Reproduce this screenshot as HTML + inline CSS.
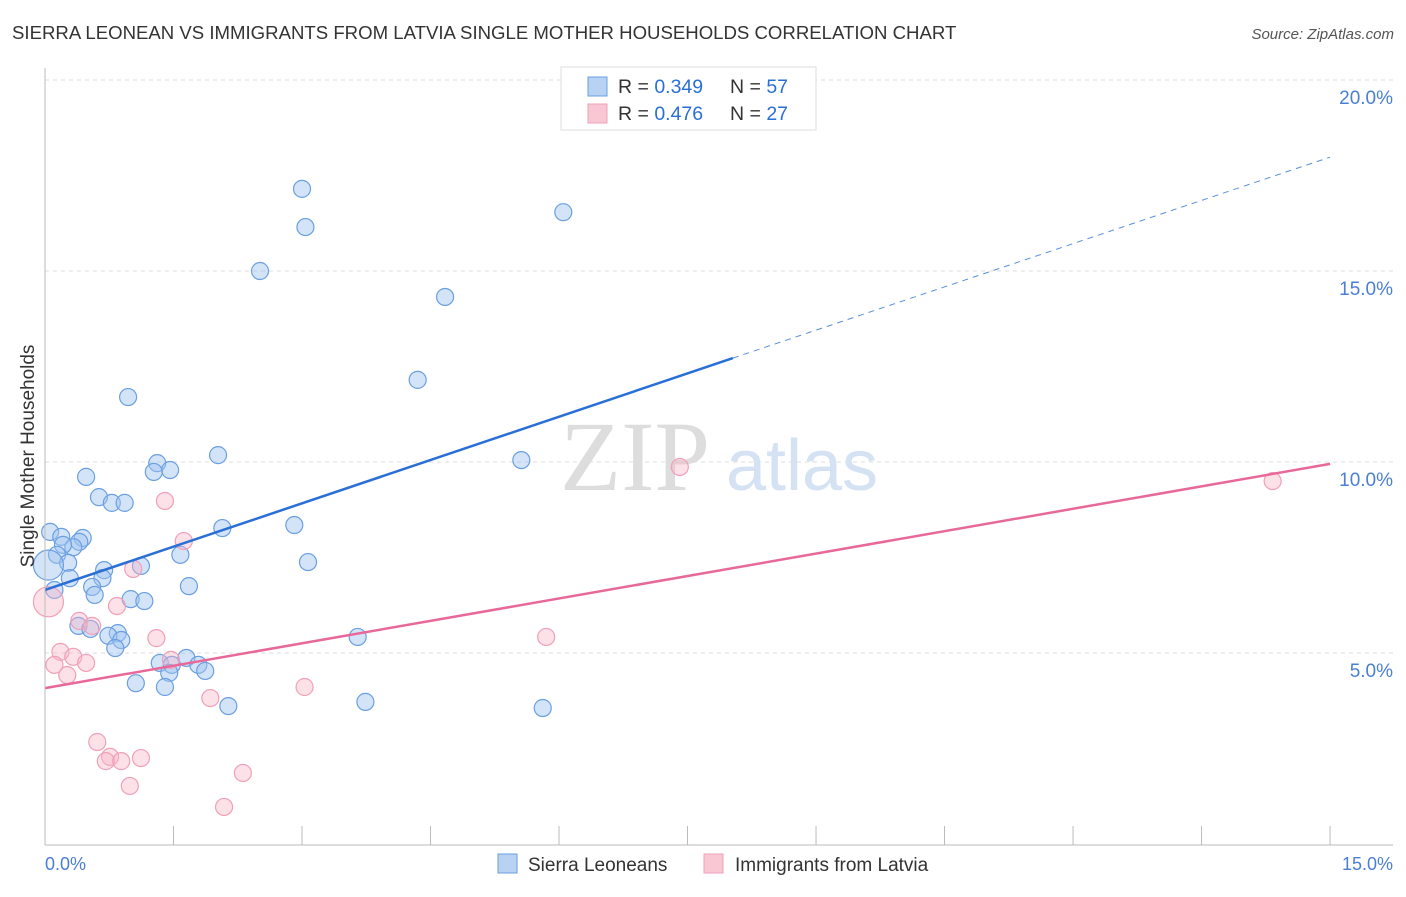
<!DOCTYPE html>
<html><head><meta charset="utf-8"><style>
body{margin:0;background:#fff;font-family:"Liberation Sans",sans-serif}
</style></head><body>
<svg width="1406" height="892" style="font-family:'Liberation Sans',sans-serif">
<text x="12" y="39" font-size="18.6" fill="#333">SIERRA LEONEAN VS IMMIGRANTS FROM LATVIA SINGLE MOTHER HOUSEHOLDS CORRELATION CHART</text>
<text x="1394" y="39" font-size="15" fill="#555" font-style="italic" text-anchor="end">Source: ZipAtlas.com</text>
<g id="grid"></g>
<text x="635" y="490" font-size="100" fill="#ddd" font-family="Liberation Serif,serif" text-anchor="middle">ZIP</text>
<text x="802" y="490" font-size="72" fill="#d4e2f4" text-anchor="middle">atlas</text>
<g id="pts"></g>
<g id="lines"></g>
<line x1="45" y1="68" x2="45" y2="845" stroke="#bbb"/>
<line x1="45" y1="845" x2="1393" y2="845" stroke="#bbb"/>
<text x="34" y="456" font-size="19" fill="#333" text-anchor="middle" transform="rotate(-90 34 456)">Single Mother Households</text>
<text x="45" y="870" font-size="18" fill="#4a7fd6">0.0%</text>
<text x="1393" y="870" font-size="18" fill="#4a7fd6" text-anchor="end">15.0%</text>
<g>
<rect x="561" y="67" width="255" height="63" fill="#fff" stroke="#ddd"/>
<rect x="588" y="77" width="19" height="19" fill="#b8d2f4" stroke="#6a9fe0"/>
<rect x="588" y="104" width="19" height="19" fill="#f9c6d4" stroke="#f0a0b8"/>
<text x="618" y="93" font-size="19.5" fill="#333">R = <tspan fill="#2a6fd6">0.349</tspan></text>
<text x="730" y="93" font-size="19.5" fill="#333">N = <tspan fill="#2a6fd6">57</tspan></text>
<text x="618" y="120" font-size="19.5" fill="#333">R = <tspan fill="#2a6fd6">0.476</tspan></text>
<text x="730" y="120" font-size="19.5" fill="#333">N = <tspan fill="#2a6fd6">27</tspan></text>
</g>
<g>
<rect x="498" y="854" width="19" height="19" fill="#b8d2f4" stroke="#6a9fe0"/>
<text x="528" y="871" font-size="19" fill="#333">Sierra Leoneans</text>
<rect x="704" y="854" width="19" height="19" fill="#f9c6d4" stroke="#f0a0b8"/>
<text x="735" y="871" font-size="19" fill="#333">Immigrants from Latvia</text>
</g>
</svg>
<script>
const yTicks=[5,10,15,20];
const yTickLabels=["5.0%","10.0%","15.0%","20.0%"];
const xTicks=[0,1.5,3,4.5,6,7.5,9,10.5,12,13.5,15];
const blueX=[3.00,3.04,6.05,2.51,4.67,4.35,0.97,5.56,2.02,1.31,1.46,1.27,0.48,0.63,0.78,0.93,2.91,2.07,0.06,0.19,0.44,0.40,0.33,0.21,0.14,1.58,3.07,0.27,1.12,0.69,0.67,0.29,1.68,0.55,0.11,0.58,1.00,1.16,0.39,0.53,0.85,0.74,0.89,0.82,3.65,1.65,1.34,1.48,1.79,1.87,1.45,1.06,1.40,2.14,3.74,5.81,0.04];
const blueY=[17.15,16.15,16.54,15.00,14.32,12.15,11.70,10.05,10.18,9.97,9.79,9.74,9.61,9.08,8.93,8.93,8.35,8.27,8.17,8.04,8.01,7.91,7.77,7.83,7.57,7.57,7.38,7.36,7.28,7.17,6.96,6.96,6.75,6.73,6.65,6.52,6.41,6.36,5.71,5.63,5.52,5.45,5.34,5.13,5.42,4.87,4.74,4.69,4.69,4.53,4.48,4.21,4.11,3.61,3.72,3.56,7.30];
const pinkX=[0.04,7.41,14.33,1.40,1.62,1.03,0.84,0.40,0.55,0.18,0.33,0.11,0.48,0.26,1.30,1.47,5.85,3.03,1.93,0.61,0.76,0.71,0.89,1.12,2.31,0.99,2.09];
const pinkY=[6.34,9.87,9.50,8.98,7.93,7.20,6.23,5.84,5.71,5.03,4.90,4.69,4.74,4.42,5.39,4.82,5.42,4.11,3.82,2.67,2.28,2.17,2.17,2.25,1.86,1.52,0.97];
const blueLine=[0,6.65,8.03,12.72,15,17.98];
const pinkLine=[0,4.08,15,9.95];
const NS="http://www.w3.org/2000/svg";
const sx=v=>45+v*85.67, sy=v=>844-v*38.2;
function mk(tag,attrs,parent){const e=document.createElementNS(NS,tag);for(const k in attrs)e.setAttribute(k,attrs[k]);parent.appendChild(e);return e;}
const grid=document.getElementById('grid');
yTicks.forEach((t,i)=>{
 const l=mk('line',{x1:45,x2:1393,y1:sy(t),y2:sy(t),stroke:'#ddd','stroke-dasharray':'4,4'},grid);
 
 
 const tx=mk('text',{x:1393,y:sy(t)+24,'font-size':19,fill:'#4a7fd6','text-anchor':'end'},grid);
 tx.textContent=yTickLabels[i];
 
 
});
xTicks.forEach(t=>{
 const l=mk('line',{x1:sx(t),x2:sx(t),y1:826,y2:845,stroke:'#bbb'},grid);
 
 
});
const pts=document.getElementById('pts');
blueX.forEach((x,i)=>{
 const c=mk('circle',{cx:sx(x),cy:sy(blueY[i]),r:i===blueX.length-1?15:8.5,fill:'rgba(160,196,240,0.45)',stroke:'#6a9fe0','stroke-width':1.2},pts);
 
 
});
pinkX.forEach((x,i)=>{
 const c=mk('circle',{cx:sx(x),cy:sy(pinkY[i]),r:i===0?15:8.5,fill:'rgba(248,180,200,0.4)',stroke:'#f0a0b8','stroke-width':1.2},pts);
 
 
});
const lines=document.getElementById('lines');
const b1=mk('line',{x1:sx(blueLine[0]),y1:sy(blueLine[1]),x2:sx(blueLine[2]),y2:sy(blueLine[3]),stroke:'#2a6fd6','stroke-width':2.5},lines);


const b2=mk('line',{x1:sx(blueLine[2]),y1:sy(blueLine[3]),x2:sx(blueLine[4]),y2:sy(blueLine[5]),stroke:'#5a8fdc','stroke-width':1,'stroke-dasharray':'6,5'},lines);


const p1=mk('line',{x1:sx(pinkLine[0]),y1:sy(pinkLine[1]),x2:sx(pinkLine[2]),y2:sy(pinkLine[3]),stroke:'#e8689a','stroke-width':2.5},lines);


</script>
</body></html>
